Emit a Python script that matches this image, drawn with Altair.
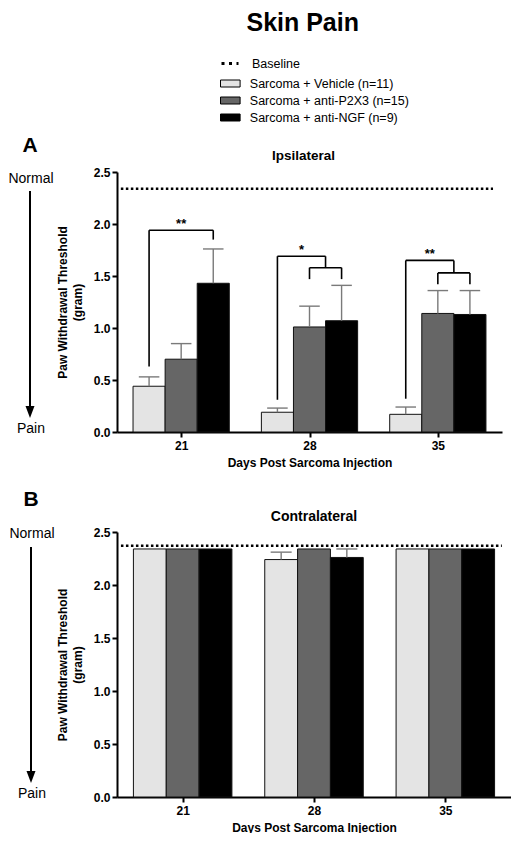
import altair as alt
import pandas as pd

FONT = "Liberation Sans"

# ---------------- data ----------------
days = ["21", "28", "35"]
groups = ["Sarcoma + Vehicle (n=11)", "Sarcoma + anti-P2X3 (n=15)", "Sarcoma + anti-NGF (n=9)"]
group_colors = ["#e4e4e4", "#666666", "#000000"]
y_ticks = [0.0, 0.5, 1.0, 1.5, 2.0, 2.5]

# Panel A - Ipsilateral
ipsi_vehicle = [0.44, 0.19, 0.17]
ipsi_vehicle_sem = [0.09, 0.04, 0.07]
ipsi_p2x3 = [0.70, 1.01, 1.14]
ipsi_p2x3_sem = [0.15, 0.20, 0.22]
ipsi_ngf = [1.43, 1.07, 1.13]
ipsi_ngf_sem = [0.33, 0.34, 0.23]
ipsi_baseline = [2.34]

# significance brackets (panel A)
sig_labels = ["**", "*", "**"]
sig_top = [1.94, 1.69, 1.65]
sig_left_end = [0.63, 0.31, 0.32]
sig_right_end = [1.85, 1.58, 1.53]
sig_inner_end = [None, 1.47, 1.42]

# Panel B - Contralateral
contra_vehicle = [2.34, 2.24, 2.34]
contra_vehicle_sem = [0.0, 0.07, 0.0]
contra_p2x3 = [2.34, 2.34, 2.34]
contra_p2x3_sem = [0.0, 0.0, 0.0]
contra_ngf = [2.34, 2.26, 2.34]
contra_ngf_sem = [0.0, 0.08, 0.0]
contra_baseline = [2.37]

BAR_W = 0.25
CAP = 0.08


def bar_table(means, sems):
    rows = []
    for g, (m_list, s_list) in enumerate(zip(means, sems)):
        for i, d in enumerate(days):
            c = i + (g - 1) * BAR_W
            rows.append(dict(day=d, group=groups[g], mean=m_list[i], sem=s_list[i],
                             upper=m_list[i] + s_list[i], x0=c - BAR_W / 2, x1=c + BAR_W / 2,
                             xc=c, cap0=c - CAP, cap1=c + CAP))
    return pd.DataFrame(rows)


def bracket_tables():
    segs, stars = [], []
    for i in range(len(days)):
        left = i - BAR_W
        right = i + BAR_W if sig_inner_end[i] is None else i + BAR_W / 2
        segs += [dict(x=left, y=sig_top[i], x2=left, y2=sig_left_end[i]),
                 dict(x=left, y=sig_top[i], x2=right, y2=sig_top[i]),
                 dict(x=right, y=sig_top[i], x2=right, y2=sig_right_end[i])]
        if sig_inner_end[i] is not None:
            a, b = i, i + BAR_W
            segs += [dict(x=a, y=sig_right_end[i], x2=b, y2=sig_right_end[i]),
                     dict(x=a, y=sig_right_end[i], x2=a, y2=sig_inner_end[i]),
                     dict(x=b, y=sig_right_end[i], x2=b, y2=sig_inner_end[i])]
        stars.append(dict(x=(left + right) / 2, y=sig_top[i], label=sig_labels[i]))
    return pd.DataFrame(segs), pd.DataFrame(stars)


label_expr = "[" + ",".join("'%s'" % d for d in days) + "][datum.value]"

fill_legend = alt.Legend(orient="none", legendX=105.8, legendY=-96, title=None, direction="vertical",
                         symbolType="M-1.4,-0.5H1.4V0.5H-1.4Z", symbolSize=196, symbolStrokeColor="black",
                         symbolStrokeWidth=1, symbolOpacity=1, labelFont=FONT, labelFontSize=12.5,
                         labelColor="black", labelOffset=12, rowPadding=3, padding=0, labelLimit=300)
base_legend = alt.Legend(orient="none", legendX=103, legendY=-118.5, title=None,
                         symbolType="stroke", symbolSize=289, symbolStrokeColor="black",
                         symbolStrokeWidth=3, symbolDash=[3, 4.5], labelFont=FONT, labelFontSize=12.5,
                         labelColor="black", labelOffset=12, padding=0, labelLimit=300)


def text_layer(txt, x, y, size, weight="normal"):
    return alt.Chart(pd.DataFrame({"t": [txt]})).mark_text(
        font=FONT, fontSize=size, fontWeight=weight, align="center", baseline="middle", color="black"
    ).encode(text="t:N", x=alt.value(x), y=alt.value(y))


def panel(title, title_size, title_dx, title_y, letter, means, sems, baseline, w, h, ann, brackets=False):
    df = bar_table(means, sems)
    xs = alt.Scale(domain=[-0.5, 2.5], nice=False, zero=False)
    ys = alt.Scale(domain=[0, 2.5], nice=False)
    x_axis = alt.Axis(values=[0, 1, 2], labelExpr=label_expr, title="Days Post Sarcoma Injection",
                      grid=False, labelFlush=False)
    y_axis = alt.Axis(values=y_ticks, format=".1f", title=["Paw Withdrawal Threshold", "(gram)"],
                      grid=False, labelFlush=False)

    def X(f):
        return alt.X(f, scale=xs, axis=x_axis)

    def Y(f):
        return alt.Y(f, scale=ys, axis=y_axis)

    bars = alt.Chart(df).mark_rect(stroke="#111111", strokeWidth=1).encode(
        x=X("x0:Q"), x2="x1:Q", y=Y("mean:Q"), y2=alt.datum(0),
        fill=alt.Fill("group:N", scale=alt.Scale(domain=groups, range=group_colors), legend=fill_legend),
    )
    err_df = df[df["sem"] > 0]
    err = alt.Chart(err_df).mark_rule(color="#7a7a7a", strokeWidth=1.4).encode(
        x=X("xc:Q"), y=Y("mean:Q"), y2="upper:Q")
    caps = alt.Chart(err_df).mark_rule(color="#7a7a7a", strokeWidth=1.4).encode(
        x=X("cap0:Q"), x2="cap1:Q", y=Y("upper:Q"))
    base_df = pd.DataFrame({"label": ["Baseline"], "y": baseline, "x0": [-0.47], "x1": [2.43]})
    base = alt.Chart(base_df).mark_rule(strokeDash=[2.5, 2.5], strokeWidth=2.5, color="black").encode(
        x=X("x0:Q"), x2="x1:Q", y=Y("y:Q"),
        opacity=alt.Opacity("label:N", scale=alt.Scale(range=[1]), legend=base_legend))

    layers = [bars, err, caps, base]
    if brackets:
        seg_df, star_df = bracket_tables()
        segs = alt.Chart(seg_df).mark_rule(color="black", strokeWidth=1.6).encode(
            x=X("x:Q"), x2="x2:Q", y=Y("y:Q"), y2="y2:Q")
        stars = alt.Chart(star_df).mark_text(font=FONT, fontSize=13, fontWeight="bold",
                                             baseline="alphabetic", dy=-2, color="black").encode(
            x=X("x:Q"), y=Y("y:Q"), text="label:N")
        layers += [segs, stars]

    ax = ann["x"]
    arrow = alt.Chart(pd.DataFrame({"t": [0]})).mark_rule(color="black", strokeWidth=2).encode(
        x=alt.value(ax), y=alt.value(ann["top"]), y2=alt.value(ann["tip"] - 8))
    head = alt.Chart(pd.DataFrame({"t": [0]})).mark_point(
        shape="M-0.75,-1L0.75,-1L0,1Z", filled=True, size=144, color="black", opacity=1).encode(
        x=alt.value(ax), y=alt.value(ann["tip"] - 6))
    layers += [
        text_layer(title, w / 2 + title_dx, title_y, title_size, "bold"),
        text_layer(letter, ax, ann["letter"], 21, "bold"),
        text_layer("Normal", ax + 1, ann["normal"], 14),
        arrow, head,
        text_layer("Pain", ax + 1, ann["pain"], 14),
    ]
    return alt.layer(*layers).properties(width=w, height=h)


panel_a = panel("Ipsilateral", 13.5, -6, -16, "A",
                [ipsi_vehicle, ipsi_p2x3, ipsi_ngf], [ipsi_vehicle_sem, ipsi_p2x3_sem, ipsi_ngf_sem],
                ipsi_baseline, 385, 260,
                dict(x=-87, letter=-26, normal=7, top=19, tip=246, pain=257), brackets=True)
panel_b = panel("Contralateral", 14, 0, -15, "B",
                [contra_vehicle, contra_p2x3, contra_ngf], [contra_vehicle_sem, contra_p2x3_sem, contra_ngf_sem],
                contra_baseline, 394, 265,
                dict(x=-86, letter=-32, normal=2, top=15, tip=251, pain=262))

chart = alt.vconcat(panel_a, panel_b, spacing=21).properties(
    title=alt.Title("Skin Pain", fontSize=25, font=FONT, fontWeight="bold", color="black",
                    anchor="middle", dx=43, offset=18),
    padding={"top": 2, "left": 0, "right": 0, "bottom": 0},
).configure_view(strokeWidth=0).configure_axis(
    domainColor="black", domainWidth=2, tickColor="black", tickWidth=2, tickSize=5,
    labelFont=FONT, labelFontSize=12, labelFontWeight="bold", labelColor="black", labelPadding=2,
    titleFont=FONT, titleFontSize=12, titleFontWeight="bold", titleColor="black", titleLineHeight=15,
).configure_axisY(titlePadding=9).configure_axisX(labelPadding=3, titlePadding=6)

chart.save("out.html", embed_options={"renderer": "svg", "actions": False})
